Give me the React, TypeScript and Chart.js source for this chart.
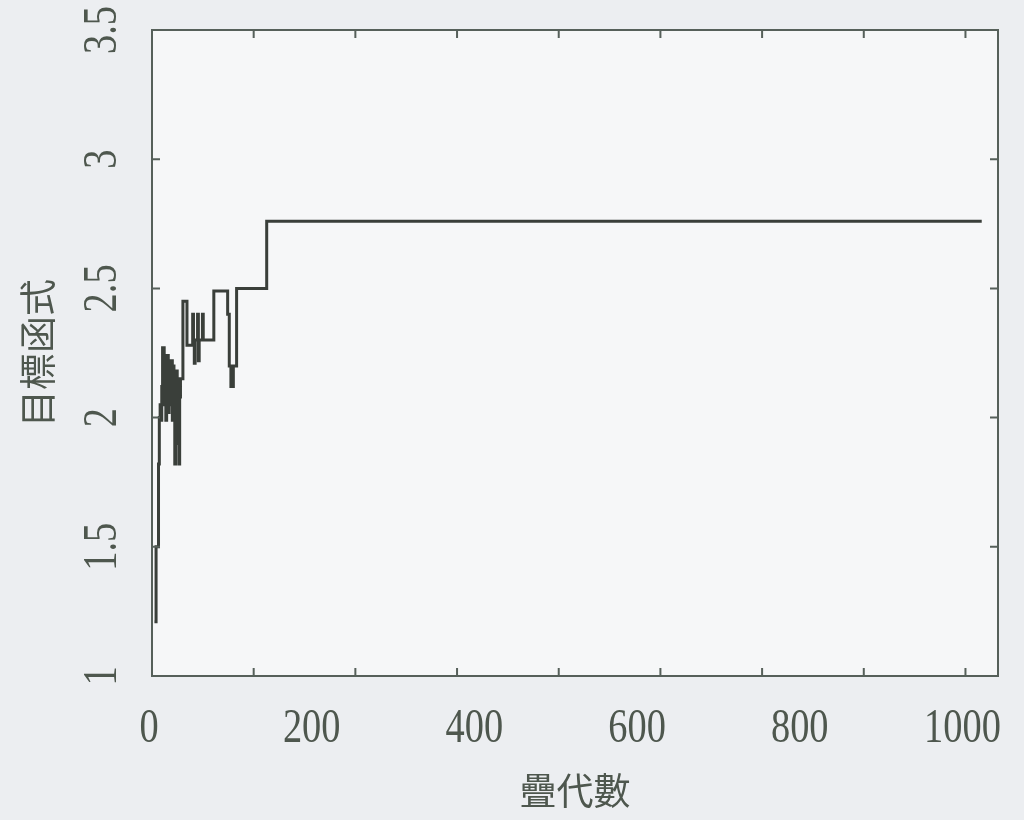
import React, { useEffect, useRef } from "react";
import { Chart, registerables } from "chart.js";

Chart.register(...registerables);

// iteration at which the objective value changes, and the new value
const iterations = [3, 5, 8, 9, 10, 11, 12, 13, 15, 16, 17, 18, 20, 21, 22, 23, 25, 26, 27, 28, 29, 31, 32, 33, 34, 35, 38, 43, 50, 51, 52, 53, 56, 57, 58, 62, 63, 76, 93, 95, 97, 100, 104, 141, 1020];
const objectiveValues = [1.21, 1.5, 1.82, 2.0, 2.05, 1.99, 2.12, 2.27, 2.05, 2.2, 1.99, 2.24, 2.02, 2.22, 2.05, 2.22, 1.99, 2.2, 2.0, 1.82, 2.18, 1.9, 2.15, 1.82, 2.08, 2.15, 2.45, 2.28, 2.4, 2.28, 2.21, 2.3, 2.4, 2.22, 2.3, 2.4, 2.3, 2.49, 2.4, 2.2, 2.12, 2.2, 2.5, 2.76, 2.76];

const xTickValues = [0, 200, 400, 600, 800, 1000];
const xTickLabels = ["0", "200", "400", "600", "800", "1000"];
const yTickValues = [1, 1.5, 2, 2.5, 3, 3.5];
const yTickLabels = ["1", "1.5", "2", "2.5", "3", "3.5"];
const xBoxTicks = [125, 250, 375, 500, 625, 750, 875, 1000];
const yBoxTicks = [1.5, 2, 2.5, 3];

const xTitle = "疊代數";
const yTitle = "目標函式";

const TEXT = "#4e574e";
const LINE = "#3a3f3a";
const BOX = "#56605a";
const DIGIT_FONT = "48px 'Liberation Serif', 'DejaVu Serif', serif";
const DIGIT_SQUEEZE = 0.8;

const decorPlugin = {
  id: "decor",
  beforeDraw(chart: any) {
    const { ctx, chartArea: a, width, height } = chart;
    ctx.save();
    ctx.fillStyle = "#eceef1";
    ctx.fillRect(0, 0, width, height);
    ctx.fillStyle = "#f6f7f8";
    ctx.fillRect(a.left, a.top, a.right - a.left, a.bottom - a.top);
    ctx.restore();
  },
  afterDatasetsDraw(chart: any) {
    const { ctx, chartArea: a, scales } = chart;
    const xs = scales.x;
    const ys = scales.y;
    ctx.save();
    ctx.strokeStyle = BOX;
    ctx.lineWidth = 2;
    ctx.strokeRect(a.left, a.top, a.right - a.left, a.bottom - a.top);
    const len = 8;
    ctx.beginPath();
    xBoxTicks.forEach((v) => {
      const px = xs.getPixelForValue(v);
      ctx.moveTo(px, a.top);
      ctx.lineTo(px, a.top + len);
      ctx.moveTo(px, a.bottom);
      ctx.lineTo(px, a.bottom - len);
    });
    yBoxTicks.forEach((v) => {
      const py = ys.getPixelForValue(v);
      ctx.moveTo(a.left, py);
      ctx.lineTo(a.left + len, py);
      ctx.moveTo(a.right, py);
      ctx.lineTo(a.right - len, py);
    });
    ctx.stroke();

    // tick labels (tall, narrow serif digits)
    ctx.fillStyle = TEXT;
    ctx.font = DIGIT_FONT;
    ctx.textAlign = "center";
    ctx.textBaseline = "alphabetic";
    xTickValues.forEach((v, i) => {
      const px = xs.getPixelForValue(v);
      ctx.save();
      ctx.translate(px - 3, a.bottom + 66);
      ctx.scale(DIGIT_SQUEEZE, 1);
      ctx.fillText(xTickLabels[i], 0, 0);
      ctx.restore();
    });
    yTickValues.forEach((v, i) => {
      const py = ys.getPixelForValue(v);
      ctx.save();
      ctx.translate(a.left - 36, py);
      ctx.rotate(-Math.PI / 2);
      ctx.scale(DIGIT_SQUEEZE, 1);
      ctx.fillText(yTickLabels[i], 0, 0);
      ctx.restore();
    });
    ctx.restore();
  },
};

export default function App() {
  const ref = useRef<HTMLCanvasElement>(null);
  useEffect(() => {
    if (!ref.current) return;
    const data = iterations.map((x, i) => ({ x, y: objectiveValues[i] }));
    const chart = new Chart(ref.current, {
      type: "line",
      data: {
        datasets: [
          {
            data,
            borderColor: LINE,
            borderWidth: 3,
            pointRadius: 0,
            stepped: true,
            fill: false,
          },
        ],
      },
      options: {
        animation: false,
        responsive: false,
        layout: { padding: { top: 30, right: 26, left: 0, bottom: 0 } },
        plugins: { legend: { display: false }, tooltip: { enabled: false } },
        scales: {
          x: {
            type: "linear",
            min: 0,
            max: 1040,
            afterFit: (s: any) => {
              s.height = 144;
              s.paddingLeft = 0;
              s.paddingRight = 0;
            },
            afterBuildTicks: (s: any) => {
              s.ticks = xTickValues.map((v) => ({ value: v }));
            },
            grid: { display: false, drawTicks: false },
            border: { display: false },
            ticks: { display: false },
            title: {
              display: true,
              text: xTitle,
              color: TEXT,
              font: { family: "'Noto Sans CJK TC', sans-serif", size: 37 },
              padding: { top: 0, bottom: 7 },
            },
          },
          y: {
            type: "linear",
            min: 1,
            max: 3.5,
            afterFit: (s: any) => {
              s.width = 152;
              s.paddingTop = 0;
              s.paddingBottom = 0;
            },
            afterBuildTicks: (s: any) => {
              s.ticks = yTickValues.map((v) => ({ value: v }));
            },
            grid: { display: false, drawTicks: false },
            border: { display: false },
            ticks: { display: false },
            title: {
              display: true,
              text: yTitle,
              color: TEXT,
              font: { family: "'Noto Sans CJK TC', sans-serif", size: 37 },
              padding: { top: 16, bottom: 0 },
            },
          },
        },
      },
      plugins: [decorPlugin],
    });
    return () => chart.destroy();
  }, []);
  return (
    <div style={{ position: "absolute", left: 0, top: 0, width: 1024, height: 820 }}>
      <canvas ref={ref} width={1024} height={820} />
    </div>
  );
}
